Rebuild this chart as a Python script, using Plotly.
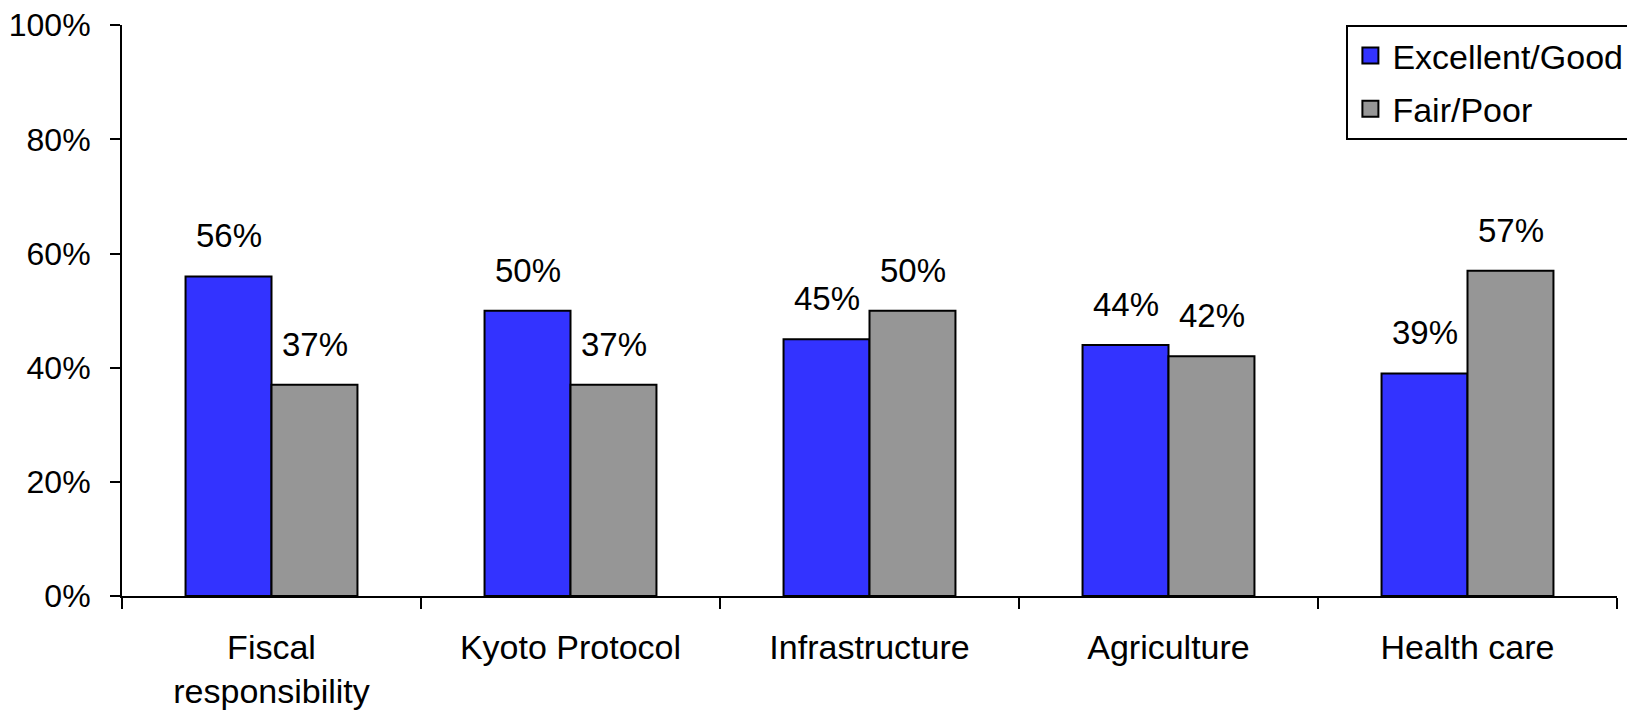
import plotly.graph_objects as go

categories = ["Fiscal<br>responsibility", "Kyoto Protocol", "Infrastructure", "Agriculture", "Health care"]
excellent_good = [56, 50, 45, 44, 39]
fair_poor = [37, 37, 50, 42, 57]
series_names = ["Excellent/Good", "Fair/Poor"]
y_ticks = [0, 20, 40, 60, 80, 100]
y_tick_text = [f"{v}%" for v in y_ticks]

FONT = "Liberation Sans, Arial, sans-serif"
BLUE = "#3333FF"
GRAY = "#969696"

fig = go.Figure()
for name, vals, color, grp in ((series_names[0], excellent_good, BLUE, "a"),
                               (series_names[1], fair_poor, GRAY, "b")):
    fig.add_trace(go.Bar(name=name, x=categories, y=vals,
                         marker=dict(color=color, line=dict(color="black", width=2)),
                         legendgroup=grp, showlegend=False))
    # legend-only entry with a larger square swatch
    fig.add_trace(go.Scatter(name=name, x=[None], y=[None], mode="markers",
                             marker=dict(symbol="square", size=16, color=color,
                                         line=dict(color="black", width=2)),
                             legendgroup=grp, showlegend=True, hoverinfo="skip"))

for vals, shift in ((excellent_good, -43), (fair_poor, 43)):
    for c, v in zip(categories, vals):
        fig.add_annotation(x=c, y=v, text=f"{v}%", showarrow=False,
                           xshift=shift, yshift=20, yanchor="bottom",
                           font=dict(family=FONT, size=33, color="black"))

# page body has an 8px margin, so the figure is drawn at (8, 8)
fig.update_layout(
    width=1627, height=705,
    margin=dict(l=114, r=18, t=17, b=117, autoexpand=False),
    paper_bgcolor="white", plot_bgcolor="white",
    barmode="group", bargap=0.425, bargroupgap=0,
    font=dict(family=FONT, size=32, color="black"),
    showlegend=True,
    legend=dict(x=0.819, y=1, xanchor="left", yanchor="top",
                bordercolor="black", borderwidth=2, bgcolor="white",
                traceorder="grouped", tracegroupgap=6, itemwidth=34,
                itemsizing="trace",
                font=dict(family=FONT, size=34, color="black")),
    xaxis=dict(type="category", categoryarray=categories, categoryorder="array",
               showline=True, linecolor="black", linewidth=2,
               ticks="outside", ticklen=11, tickwidth=2, tickcolor="black",
               tickson="boundaries", showgrid=False, zeroline=False,
               automargin=False, ticklabelstandoff=20,
               tickfont=dict(family=FONT, size=34, color="black")),
    yaxis=dict(range=[0, 100.05], tickmode="array", tickvals=y_ticks, ticktext=y_tick_text,
               showline=True, linecolor="black", linewidth=2,
               ticks="outside", ticklen=10, tickwidth=2, tickcolor="black",
               showgrid=False, zeroline=False, ticklabelstandoff=13,
               automargin=False, ticklabeloverflow="allow",
               tickfont=dict(family=FONT, size=32, color="black")),
)

fig.write_html("out.html")
